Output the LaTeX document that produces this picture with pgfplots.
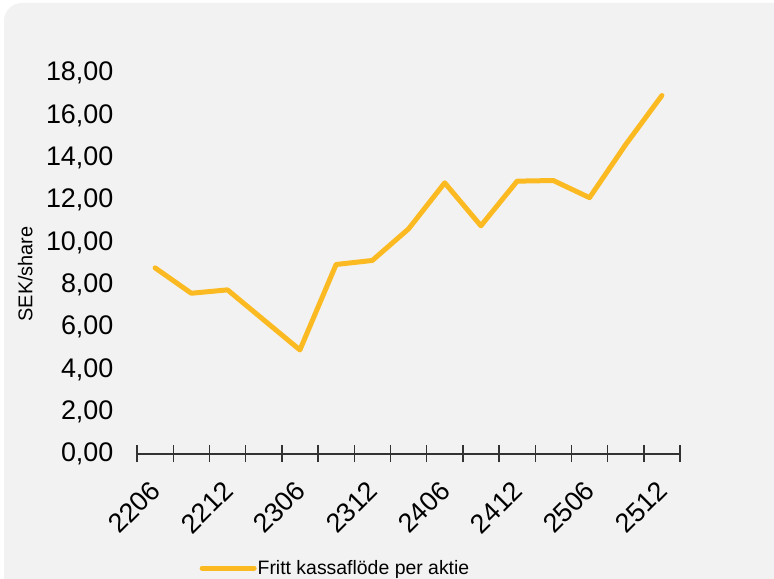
\documentclass[border=0pt]{standalone}
\usepackage{fontspec}
\setmainfont{Liberation Sans}
\usepackage{pgfplots}
\pgfplotsset{compat=1.18}
\definecolor{bg}{HTML}{F2F2F2}
\definecolor{lineyel}{HTML}{FBBA22}
\definecolor{axisgray}{HTML}{333333}
\begin{document}
\begin{tikzpicture}[x=1bp,y=1bp]
\useasboundingbox (0,0) rectangle (774,579);
\begin{scope}
\clip (0,0) rectangle (774,579);
\fill[white] (0,0) rectangle (774,579);
\fill[bg, rounded corners=18bp] (4,-40) rectangle (830,576);
\end{scope}
\begin{axis}[
  at={(137bp,125bp)}, anchor=south west, scale only axis,
  width=543bp, height=380.7bp,
  xmin=-0.5, xmax=14.5, ymin=0, ymax=18,
  axis x line*=bottom, axis y line*=left,
  x axis line style={-, draw=axisgray, line width=1.4bp},
  y axis line style={draw=none},
  ytick={0,2,...,18},
  ytick style={draw=none},
  xtick={0,2,...,14},
  xticklabels={2206,2212,2306,2312,2406,2412,2506,2512},
  major x tick style={draw=none},
  minor xtick={-0.5,0.5,...,14.5},
  minor x tick style={draw=axisgray, line width=1.4bp},
  minor tick length=17bp,
  tick align=center,
  /pgf/number format/.cd, fixed, fixed zerofill, precision=2, use comma, assume math mode=true,
  /pgfplots/.cd,
  yticklabel style={font=\fontsize{27}{32}\selectfont, xshift=-18bp},
  xticklabel style={font=\fontsize{27}{32}\selectfont, rotate=45, anchor=east, xshift=-17.3bp, yshift=-21.5bp},
  ylabel={SEK/share},
  ylabel style={font=\fontsize{20}{24}\selectfont, at={(axis description cs:-0.206,0.473)}, anchor=center},
  legend style={at={(axis description cs:0.115,-0.2995)}, anchor=west, draw=none, fill=none,
    inner sep=0pt, font=\fontsize{19.5}{23}\selectfont, nodes={inner xsep=1bp}},
  legend cell align=left,
  legend image code/.code={\draw[line width=5bp, lineyel, line cap=round] (0bp,0bp) -- (52bp,0bp);},
]
\addplot[lineyel, line width=5bp, line join=round, line cap=round] coordinates {
  (0,8.80) (1,7.60) (2,7.76) (3,6.34) (4,4.92) (5,8.96) (6,9.15) (7,10.64)
  (8,12.82) (9,10.79) (10,12.90) (11,12.93) (12,12.12) (13,14.63) (14,16.95)
};
\addlegendentry{Fritt kassaflöde per aktie}
\end{axis}
\end{tikzpicture}
\end{document}
